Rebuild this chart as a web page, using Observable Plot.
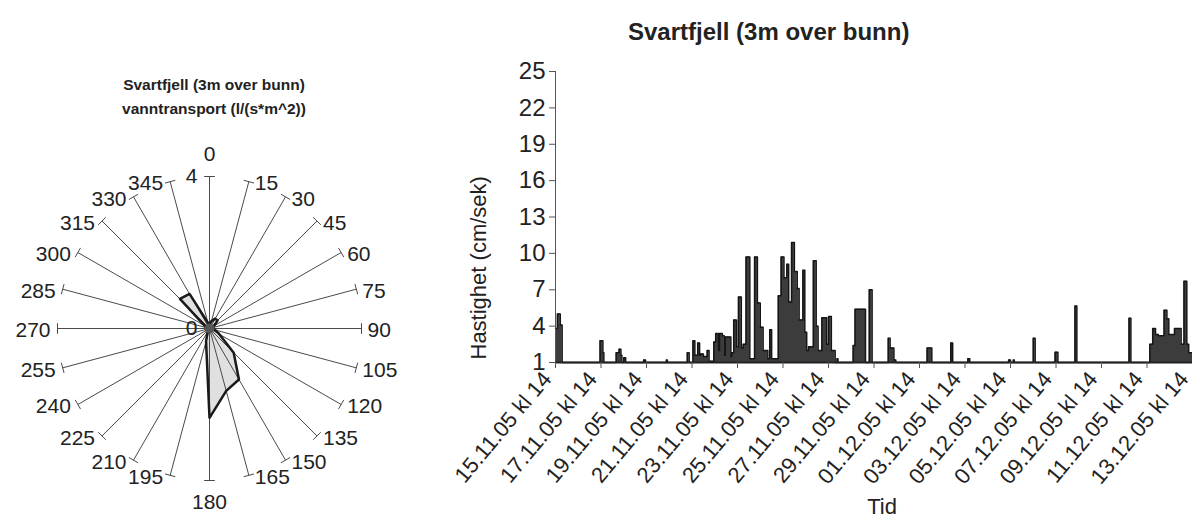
<!DOCTYPE html>
<html><head><meta charset="utf-8">
<script src="https://cdn.jsdelivr.net/npm/d3@7"></script>
<script src="https://cdn.jsdelivr.net/npm/@observablehq/plot@0.6"></script>
<style>
body{margin:0;background:#fff;font-family:"Liberation Sans",Arial,sans-serif;}
#wrap{position:relative;width:1192px;height:519px;overflow:hidden;background:#fff;}
#left,#right{position:absolute;top:0;}
#left{left:0;}
#right{left:420px;}
.t{position:absolute;font-weight:bold;color:#222;white-space:nowrap;line-height:1;}
</style></head><body><div id="wrap">
<div id="left"></div><div id="right"></div>
<div class="t" style="left:0;width:428px;text-align:center;top:77px;font-size:15.5px;">Svartfjell (3m over bunn)</div>
<div class="t" style="left:0;width:428px;text-align:center;top:101px;font-size:15.5px;">vanntransport (l/(s*m^2))</div>
<div class="t" style="left:628px;top:20px;font-size:24px;">Svartfjell (3m over bunn)</div>
</div>
<script>
// ---- radar (direction) data ----
const directions = [0,15,30,45,60,75,90,105,120,135,150,165,180,195,210,225,240,255,270,285,300,315,330,345];
const transport  = [0.1,0.2,0.3,0.3,0.15,0.1,0.1,0.15,0.3,0.9,1.55,1.7,2.35,0.35,0.1,0.05,0.05,0.05,0.1,0.1,0.15,1.1,1.05,0.15];
const radialMax = 4;
const radialTicks = [0, 4];

// ---- time series data (hours after 15.11.05 kl 14, speed cm/s) ----
const hours = [0,2,5,7,47,50,51,64,67,69,70,72,74,93,95,117,118,139,141,145,147,150,152,153,156,160,162,167,169,172,173,176,178,179,185,186,188,191,193,196,198,201,205,210,213,216,219,224,226,228,235,238,241,244,246,249,252,255,257,261,263,265,267,272,275,277,281,286,288,291,295,297,298,314,316,327,331,334,351,353,357,359,392,397,417,419,435,437,478,480,483,484,504,506,527,530,548,550,605,607,627,630,633,636,642,645,647,653,660,663,666,668,672];
const speed = [3.8,5.0,4.1,1.0,2.8,1.8,1.0,1.8,2.1,1.6,1.0,1.4,1.0,1.2,1.0,1.2,1.0,1.8,1.0,2.8,1.6,2.6,1.6,1.7,1.5,2.0,1.1,2.7,3.4,2.0,3.4,3.2,1.6,3.1,1.5,1.8,4.5,2.3,6.4,2.2,2.5,9.7,1.3,9.7,5.9,3.9,2.0,1.3,3.7,1.3,6.5,9.7,8.0,9.1,6.0,10.9,8.5,7.1,4.5,8.6,3.5,2.0,2.3,9.4,4.0,2.0,4.7,2.5,4.8,2.0,1.0,1.3,1.0,2.4,5.4,1.0,7.0,1.0,3.0,2.2,1.2,1.0,2.2,1.0,2.6,1.0,1.3,1.0,1.2,1.0,1.2,1.0,3.0,1.0,1.85,1.0,5.65,1.0,4.65,1.0,2.5,3.8,3.3,3.2,5.3,4.6,3.3,3.8,2.5,7.7,2.5,1.8,1.8];
const tickLabels = ["15.11.05 kl 14","17.11.05 kl 14","19.11.05 kl 14","21.11.05 kl 14","23.11.05 kl 14","25.11.05 kl 14","27.11.05 kl 14","29.11.05 kl 14","01.12.05 kl 14","03.12.05 kl 14","05.12.05 kl 14","07.12.05 kl 14","09.12.05 kl 14","11.12.05 kl 14","13.12.05 kl 14"];
const yTicks = [1,4,7,10,13,16,19,22,25];

// ---------- left: radar ----------
const rad = a => a * Math.PI / 180;
const poly = directions.map((a, i) => ({a, v: transport[i]}));
const tk = 0.14;
const FONT = "Liberation Sans, Arial, sans-serif";
const LF = 21;
const sideR = directions.filter(a => a > 0 && a < 180);
const sideL = directions.filter(a => a > 180);
const ex = a => radialMax * Math.sin(rad(a));
const ey = a => radialMax * Math.cos(rad(a));
const leftPlot = Plot.plot({
  width: 420, height: 519,
  marginLeft: 57, marginRight: 59, marginTop: 176, marginBottom: 39,
  x: {domain: [-radialMax, radialMax], axis: null},
  y: {domain: [-radialMax, radialMax], axis: null},
  style: {fontFamily: FONT, color: "#222", background: "transparent"},
  marks: [
    Plot.line(poly, {x: d => d.v * Math.sin(rad(d.a)), y: d => d.v * Math.cos(rad(d.a)), curve: "linear-closed", fill: "#e0e0e0", stroke: "none"}),
    Plot.link(directions, {x1: 0, y1: 0, x2: ex, y2: ey, stroke: "#4a4a4a", strokeWidth: 1}),
    Plot.link(directions, {
      x1: a => ex(a) - tk * Math.cos(rad(a)),
      y1: a => ey(a) + tk * Math.sin(rad(a)),
      x2: a => ex(a) + tk * Math.cos(rad(a)),
      y2: a => ey(a) - tk * Math.sin(rad(a)),
      stroke: "#4a4a4a", strokeWidth: 1}),
    Plot.line(poly, {x: d => d.v * Math.sin(rad(d.a)), y: d => d.v * Math.cos(rad(d.a)), curve: "linear-closed", stroke: "#1a1a1a", strokeWidth: 2.5}),
    Plot.dot([0], {x: 0, y: 0, r: 5, fill: "#555"}),
    Plot.text(sideR, {x: ex, y: ey, text: a => String(a), textAnchor: "start", dx: 6, dy: 2, fontSize: LF, fill: "#222"}),
    Plot.text(sideL, {x: ex, y: ey, text: a => String(a), textAnchor: "end", dx: -7, dy: 2, fontSize: LF, fill: "#222"}),
    Plot.text([0], {x: 0, y: radialMax, text: a => String(a), dy: -22, fontSize: LF, fill: "#222"}),
    Plot.text([180], {x: 0, y: -radialMax, text: a => String(a), dy: 22, fontSize: LF, fill: "#222"}),
    Plot.text(radialTicks, {x: 0, y: d => d, text: d => String(d), textAnchor: "end", dx: -12, fontSize: LF, fill: "#222"})
  ]
});
document.getElementById("left").append(leftPlot);

// ---------- right: time series ----------
const start = Date.UTC(2005, 10, 15, 14);
const series = hours.map((h, i) => ({t: new Date(start + h * 3600e3), v: speed[i]}));
const parseLabel = s => { const m = s.match(/(\d+)\.(\d+)\.(\d+) kl (\d+)/); return new Date(Date.UTC(2000 + +m[3], +m[2] - 1, +m[1], +m[4])); };
const tickDates = tickLabels.map(parseLabel);
const rightPlot = Plot.plot({
  width: 772, height: 519,
  marginLeft: 135, marginRight: 0, marginTop: 71, marginBottom: 157,
  x: {type: "utc", domain: [tickDates[0], tickDates[tickDates.length - 1]], axis: null},
  y: {domain: [1, 25], axis: null},
  style: {fontFamily: FONT, color: "#222", background: "transparent"},
  marks: [
    Plot.areaY(series, {x: "t", y1: 1, y2: "v", curve: "step-after", fill: "#3c3c3c"}),
    Plot.line(series, {x: "t", y: "v", curve: "step-after", stroke: "#151515", strokeWidth: 1.5}),
    Plot.ruleX([tickDates[0]], {stroke: "#555"}),
    Plot.ruleY([1], {stroke: "#222", strokeWidth: 2}),
    Plot.axisY(yTicks, {tickSize: 6, tickPadding: 4, fontSize: 24, label: null, stroke: "#555", fill: "#222"}),
    Plot.axisX(tickDates, {tickSize: 6, tickFormat: () => "", label: null, stroke: "#555"}),
    Plot.text(tickDates, {x: d => d, frameAnchor: "bottom", text: (d, i) => tickLabels[i], rotate: -50, textAnchor: "end", dx: -3, dy: 17, fontSize: 22, fill: "#222"}),
    Plot.text(["Hastighet (cm/sek)"], {frameAnchor: "bottom-left", rotate: -90, textAnchor: "start", dx: -70, dy: -3, fontSize: 22, fill: "#222"}),
    Plot.text(["Tid"], {frameAnchor: "bottom", dx: 8, dy: 151, fontSize: 22, fill: "#222"})
  ]
});
document.getElementById("right").append(rightPlot);
</script>
</body></html>
